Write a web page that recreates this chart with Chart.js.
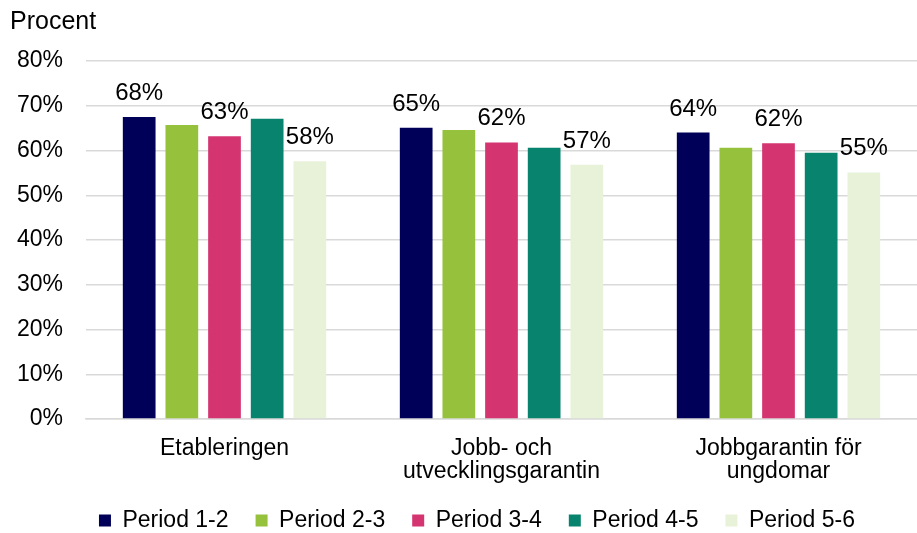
<!DOCTYPE html>
<html>
<head>
<meta charset="utf-8">
<script src="https://cdn.jsdelivr.net/npm/chart.js@4/dist/chart.umd.min.js"></script>
<style>
  html, body { margin: 0; padding: 0; background: #fff; overflow: hidden; }
  #wrap { width: 917px; height: 533px; position: relative; }
</style>
</head>
<body>
<div id="wrap"><canvas id="c" width="917" height="533"></canvas></div>
<script>
const categories = ["Etableringen", ["Jobb- och", "utvecklingsgarantin"], ["Jobbgarantin för", "ungdomar"]];
const seriesNames = ["Period 1-2", "Period 2-3", "Period 3-4", "Period 4-5", "Period 5-6"];
const period12 = [67.5, 65.1, 64.0];
const period23 = [65.7, 64.6, 60.6];
const period34 = [63.2, 61.8, 61.6];
const period45 = [67.1, 60.6, 59.5];
const period56 = [57.6, 56.8, 55.1];
const labeledSeries = [0, 2, 4];
const yMin = 0, yMax = 80, yStep = 10;
const yAxisTitle = "Procent";

const colors = ["#000058", "#95C13D", "#D43571", "#08846E", "#E8F2D9"];
const seriesValues = [period12, period23, period34, period45, period56];
const FONT = "'Liberation Sans', Arial, sans-serif";
const FS = 23;

const titlePlugin = {
  id: 'procentTitle',
  beforeDraw(chart) {
    // let tick labels extend beyond their boxes (avoid clipping)
    chart.scales.y.left = 0;
    chart.scales.x.bottom = chart.height;
  },
  afterDraw(chart) {
    const ctx = chart.ctx;
    ctx.save();
    ctx.font = "25px " + FONT;
    ctx.fillStyle = "#000";
    ctx.textAlign = "left";
    ctx.textBaseline = "alphabetic";
    ctx.fillText(yAxisTitle, 10, 29);
    ctx.restore();
  }
};

const valueLabels = {
  id: 'valueLabels',
  afterDatasetsDraw(chart) {
    const ctx = chart.ctx;
    ctx.save();
    ctx.font = "24px " + FONT;
    ctx.fillStyle = "#000";
    ctx.textAlign = "center";
    ctx.textBaseline = "alphabetic";
    labeledSeries.forEach(di => {
      const meta = chart.getDatasetMeta(di);
      meta.data.forEach((bar, i) => {
        const v = chart.data.datasets[di].data[i];
        ctx.fillText(Math.round(v) + "%", bar.x, bar.y - 17);
      });
    });
    ctx.restore();
  }
};

new Chart(document.getElementById('c'), {
  type: 'bar',
  data: {
    labels: categories,
    datasets: seriesNames.map((name, i) => ({
      label: name,
      data: seriesValues[i],
      backgroundColor: colors[i],
      borderWidth: 0,
      barPercentage: 0.767,
      categoryPercentage: 0.77
    }))
  },
  options: {
    responsive: false,
    animation: false,
    events: [],
    layout: { padding: { left: 30, right: -7, top: 61, bottom: -9 } },
    plugins: {
      legend: {
        position: 'bottom',
        labels: {
          font: { family: FONT, size: FS },
          color: "#000",
          boxWidth: 12,
          boxHeight: 12,
          padding: 27
        }
      },
      tooltip: { enabled: false },
      title: { display: false }
    },
    scales: {
      x: {
        afterFit(scale) { scale.height = 63; },
        grid: { display: false, drawTicks: false },
        border: { display: true, color: "#d9d9d9", width: 1.5 },
        ticks: { font: { family: FONT, size: FS, lineHeight: 1 }, color: "#000", padding: 18, maxRotation: 0, autoSkip: false }
      },
      y: {
        min: yMin, max: yMax,
        afterFit(scale) { scale.width = 56; },
        grid: { color: "#d9d9d9", lineWidth: 1.5, drawTicks: false },
        border: { display: false },
        ticks: { stepSize: yStep, font: { family: FONT, size: FS }, color: "#000", padding: 23, callback: v => v + "%" }
      }
    }
  },
  plugins: [titlePlugin, valueLabels]
});
</script>
</body>
</html>
